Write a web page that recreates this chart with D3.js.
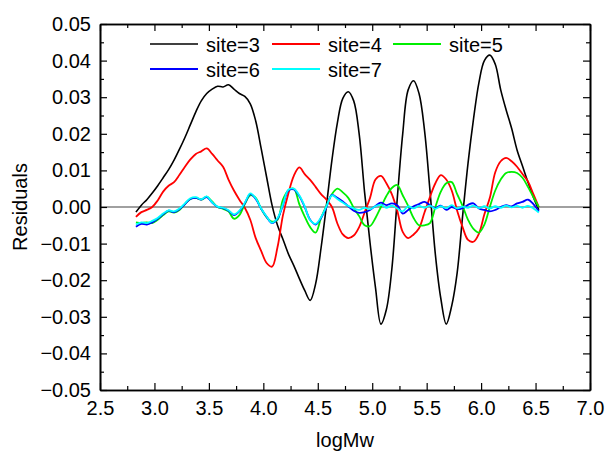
<!DOCTYPE html>
<html>
<head>
<meta charset="utf-8">
<script src="https://cdn.jsdelivr.net/npm/d3@7"></script>
<style>
  html, body { margin: 0; padding: 0; background: #fff; }
  svg { display: block; }
  text { font-family: "Liberation Sans", Arial, sans-serif; }
</style>
</head>
<body>
<svg id="chart" width="607" height="453"></svg>
<script>
// ---- Data ----
const logMw = [2.83, 2.88, 2.93, 2.98, 3.03, 3.08, 3.13, 3.18, 3.23, 3.28, 3.33, 3.38, 3.43, 3.48, 3.53, 3.58, 3.63, 3.68, 3.73, 3.78, 3.83, 3.88, 3.93, 3.98, 4.03, 4.08, 4.13, 4.18, 4.23, 4.28, 4.33, 4.38, 4.43, 4.48, 4.53, 4.58, 4.63, 4.68, 4.73, 4.78, 4.83, 4.88, 4.93, 4.98, 5.03, 5.08, 5.13, 5.18, 5.23, 5.28, 5.33, 5.38, 5.43, 5.48, 5.53, 5.58, 5.63, 5.68, 5.73, 5.78, 5.83, 5.88, 5.93, 5.98, 6.03, 6.08, 6.13, 6.18, 6.23, 6.28, 6.33, 6.38, 6.43, 6.48, 6.53];

const site3 = [-0.0014, 0.0005, 0.002, 0.0038, 0.0058, 0.008, 0.0102, 0.0128, 0.0158, 0.019, 0.0225, 0.026, 0.029, 0.031, 0.0322, 0.033, 0.0328, 0.0334, 0.0322, 0.031, 0.0302, 0.0282, 0.0235, 0.016, 0.0082, 0.0005, -0.005, -0.0088, -0.0128, -0.016, -0.0195, -0.0228, -0.0255, -0.021, -0.0112, 0.0005, 0.0128, 0.023, 0.0297, 0.0315, 0.029, 0.020, 0.004, -0.0098, -0.022, -0.032, -0.028, -0.017, 0.0023, 0.020, 0.032, 0.0345, 0.031, 0.021, 0.0046, -0.013, -0.025, -0.032, -0.027, -0.018, -0.0025, 0.012, 0.024, 0.034, 0.040, 0.0415, 0.039, 0.032, 0.0265, 0.0215, 0.0156, 0.0112, 0.0068, 0.0027, -0.0008];

const site4 = [-0.0027, -0.0014, -0.0008, 0.0, 0.0018, 0.0042, 0.0058, 0.0068, 0.0088, 0.011, 0.013, 0.0145, 0.0152, 0.016, 0.0145, 0.0127, 0.011, 0.0075, 0.0045, 0.002, -0.0002, -0.0035, -0.0085, -0.012, -0.0153, -0.0163, -0.011, -0.0023, 0.0037, 0.0085, 0.0108, 0.009, 0.0074, 0.0055, 0.0035, 0.002, 0.0, -0.0045, -0.0075, -0.0085, -0.0078, -0.0055, -0.0015, 0.0025, 0.0075, 0.0085, 0.0065, 0.0035, -0.001, -0.0068, -0.0085, -0.0075, -0.0058, -0.0015, 0.0027, 0.0065, 0.0087, 0.0075, 0.0045, -0.001, -0.0055, -0.009, -0.0095, -0.0073, -0.002, 0.0025, 0.0095, 0.0125, 0.0134, 0.0125, 0.011, 0.009, 0.007, 0.0035, 0.0];

const site5 = [-0.0042, -0.0044, -0.0042, -0.0044, -0.0035, -0.0022, -0.0012, -0.0015, -0.0008, 0.0008, 0.0022, 0.0025, 0.002, 0.0028, 0.0015, 0.0, -0.0005, -0.0012, -0.0032, -0.0022, 0.0008, 0.0032, 0.0025, -0.0005, -0.0028, -0.004, -0.0035, 0.002, 0.0045, 0.005, 0.0008, -0.0026, -0.0055, -0.007, -0.003, 0.0004, 0.0035, 0.005, 0.004, 0.0025, -0.0002, -0.0025, -0.005, -0.0052, -0.003, 0.0, 0.003, 0.0052, 0.006, 0.0032, 0.0003, -0.003, -0.005, -0.005, -0.0044, 0.0, 0.0042, 0.0065, 0.0068, 0.0035, 0.0003, -0.0035, -0.006, -0.007, -0.0048, 0.0, 0.0045, 0.0075, 0.0093, 0.0096, 0.0093, 0.008, 0.0055, 0.0027, 0.0];

const site6 = [-0.0054, -0.0046, -0.0048, -0.0042, -0.0032, -0.002, -0.001, -0.0014, -0.0006, 0.0008, 0.0022, 0.0025, 0.002, 0.0027, 0.0012, 0.0, -0.0003, -0.001, -0.0022, -0.0012, 0.001, 0.0035, 0.0022, -0.0005, -0.0027, -0.0044, -0.0032, 0.0005, 0.0045, 0.0048, 0.003, 0.0, -0.0035, -0.0048, -0.003, 0.0, 0.0033, 0.0025, 0.0015, 0.0002, -0.001, -0.0016, -0.0014, -0.0008, 0.0003, 0.0012, 0.0005, 0.001, 0.0005, -0.0018, -0.0008, 0.0002, 0.0008, 0.0014, 0.0005, -0.0003, 0.0004, -0.0008, 0.0, -0.0006, -0.0003, 0.0006, 0.001, -0.0004, -0.0008, -0.0012, -0.0008, 0.0, 0.0005, 0.0002, 0.001, 0.0014, 0.002, 0.0008, -0.0012];

const site7 = [-0.0048, -0.0042, -0.0044, -0.0038, -0.003, -0.0018, -0.0009, -0.0012, -0.0004, 0.001, 0.0024, 0.0027, 0.0021, 0.0029, 0.0013, 0.0001, -0.0002, -0.0009, -0.002, -0.001, 0.0012, 0.0037, 0.0024, -0.0004, -0.0026, -0.0043, -0.003, 0.0007, 0.0047, 0.005, 0.0032, 0.0002, -0.0036, -0.0046, -0.0028, 0.0002, 0.0032, 0.0022, 0.0012, 0.0003, -0.0004, -0.0008, -0.0002, -0.0006, 0.0002, 0.0006, -0.0002, 0.0004, -0.0004, -0.0012, 0.0002, -0.0004, 0.0003, -0.0002, 0.0004, -0.0005, 0.0002, -0.0003, 0.0005, -0.0004, 0.0001, -0.0002, 0.0004, -0.0003, 0.0002, -0.0004, 0.0002, -0.0002, 0.0004, -0.0001, 0.0003, -0.0002, 0.0003, -0.0004, -0.0015];

const seriesNames = ["site=3", "site=4", "site=5", "site=6", "site=7"];
const seriesColors = ["#000000", "#ff0000", "#00ee00", "#0000ff", "#00ffff"];
const xTicks = [2.5, 3.0, 3.5, 4.0, 4.5, 5.0, 5.5, 6.0, 6.5, 7.0];
const yTicks = [-0.05, -0.04, -0.03, -0.02, -0.01, 0.00, 0.01, 0.02, 0.03, 0.04, 0.05];
const xMinorTicks = [2.75, 3.25, 3.75, 4.25, 4.75, 5.25, 5.75, 6.25, 6.75];
const yMinorTicks = [-0.045, -0.035, -0.025, -0.015, -0.005, 0.005, 0.015, 0.025, 0.035, 0.045];

// ---- Layout ----
const M = {left: 100, right: 590, top: 24, bottom: 390};
const svg = d3.select("#chart");

const x = d3.scaleLinear().domain([2.5, 7.0]).range([M.left, M.right]);
const y = d3.scaleLinear().domain([-0.05, 0.05]).range([M.bottom, M.top]);

// zero line
svg.append("line")
  .attr("x1", x(2.5)).attr("x2", x(7.0))
  .attr("y1", y(0)).attr("y2", y(0))
  .attr("stroke", "#808080").attr("stroke-width", 1.5);

// series
const allSeries = [site3, site4, site5, site6, site7];
const line = d3.line()
  .x((d, i) => x(logMw[i]))
  .y(d => y(d))
  .curve(d3.curveCatmullRom.alpha(0.5));

const plot = svg.append("g");
allSeries.forEach((s, k) => {
  plot.append("path")
    .datum(s)
    .attr("fill", "none")
    .attr("stroke", seriesColors[k])
    .attr("stroke-width", k === 0 ? 1.6 : 1.8)
    .attr("stroke-linejoin", "round")
    .attr("d", line);
});

// axes
const fmtX = d3.format(".1f");
const fmtY = d3.format(".2f");
const fontSize = 20;

function styleAxis(g) {
  g.selectAll(".domain").attr("stroke", "#000").attr("stroke-width", 1.6);
  g.selectAll(".tick line").attr("stroke", "#000").attr("stroke-width", 1.2);
  g.selectAll("text").attr("font-size", fontSize).attr("fill", "#000")
    .attr("font-family", "'Liberation Sans', Arial, sans-serif");
}

// bottom
svg.append("g").attr("transform", `translate(0,${M.bottom})`)
  .call(d3.axisBottom(x).tickValues(xTicks).tickFormat(fmtX).tickSize(-7).tickPadding(11).tickSizeOuter(0))
  .call(styleAxis);
svg.append("g").attr("transform", `translate(0,${M.bottom})`)
  .call(d3.axisBottom(x).tickValues(xMinorTicks).tickFormat("").tickSize(-4).tickSizeOuter(0))
  .call(styleAxis);
// top
svg.append("g").attr("transform", `translate(0,${M.top})`)
  .call(d3.axisTop(x).tickValues(xTicks).tickFormat("").tickSize(-7).tickSizeOuter(0))
  .call(styleAxis);
svg.append("g").attr("transform", `translate(0,${M.top})`)
  .call(d3.axisTop(x).tickValues(xMinorTicks).tickFormat("").tickSize(-4).tickSizeOuter(0))
  .call(styleAxis);
// left
svg.append("g").attr("transform", `translate(${M.left},0)`)
  .call(d3.axisLeft(y).tickValues(yTicks).tickFormat(fmtY).tickSize(-7).tickPadding(9).tickSizeOuter(0))
  .call(styleAxis);
svg.append("g").attr("transform", `translate(${M.left},0)`)
  .call(d3.axisLeft(y).tickValues(yMinorTicks).tickFormat("").tickSize(-4).tickSizeOuter(0))
  .call(styleAxis);
// right
svg.append("g").attr("transform", `translate(${M.right},0)`)
  .call(d3.axisRight(y).tickValues(yTicks).tickFormat("").tickSize(-7).tickSizeOuter(0))
  .call(styleAxis);
svg.append("g").attr("transform", `translate(${M.right},0)`)
  .call(d3.axisRight(y).tickValues(yMinorTicks).tickFormat("").tickSize(-4).tickSizeOuter(0))
  .call(styleAxis);

// axis titles
svg.append("text")
  .attr("x", (M.left + M.right) / 2).attr("y", 447)
  .attr("text-anchor", "middle").attr("font-size", fontSize)
  .text("logMw");
svg.append("text")
  .attr("transform", `translate(27,${(M.top + M.bottom) / 2}) rotate(-90)`)
  .attr("text-anchor", "middle").attr("font-size", fontSize)
  .text("Residuals");

// legend
const legendPos = [
  {lx: 150, ty: 51.5},
  {lx: 272, ty: 51.5},
  {lx: 393, ty: 51.5},
  {lx: 150, ty: 76.5},
  {lx: 272, ty: 76.5}
];
const legend = svg.append("g");
seriesNames.forEach((name, k) => {
  const p = legendPos[k];
  legend.append("line")
    .attr("x1", p.lx).attr("x2", p.lx + 48)
    .attr("y1", p.ty - 7.5).attr("y2", p.ty - 7.5)
    .attr("stroke", seriesColors[k]).attr("stroke-width", k === 0 ? 1.3 : 1.8);
  legend.append("text")
    .attr("x", p.lx + 56).attr("y", p.ty)
    .attr("font-size", fontSize)
    .text(name);
});
</script>
</body>
</html>
